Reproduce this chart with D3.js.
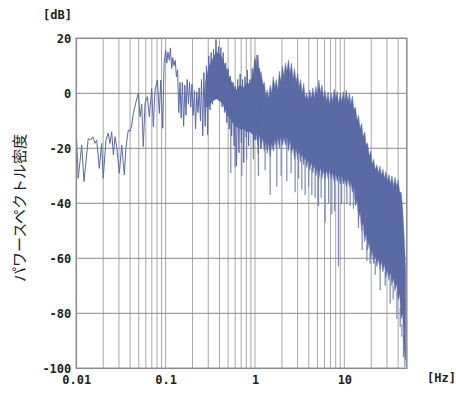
<!DOCTYPE html>
<html><head><meta charset="utf-8">
<script src="https://cdn.jsdelivr.net/npm/d3@7"></script>
<style>
html,body{margin:0;padding:0;background:#fff;}
svg{display:block;}
.tick text{font-family:"DejaVu Sans Mono",monospace;font-weight:bold;font-size:12px;fill:#222;}
</style></head>
<body>
<svg id="c" width="456" height="396"></svg>
<script>
// ---- data ----
const xTickLabels = [0.01, 0.1, 1, 10];
const yTickValues = [-100, -80, -60, -40, -20, 0, 20];

// trace line (0.01 Hz – 1.2 Hz)
const traceHz = [0.0101,0.0105,0.0115,0.0122,0.0136,0.0145,0.0153,0.0162,0.0169,0.0181,0.0192,0.0200,0.0215,0.0228,0.0238,0.0249,0.0260,0.0271,0.0283,0.0303,0.0322,0.0336,0.0345,0.0360,0.0382,0.0399,0.0417,0.0435,0.0466,0.0495,0.0517,0.0540,0.0562,0.0588,0.0624,0.0657,0.0698,0.0728,0.0761,0.0807,0.0850,0.0881,0.0928,0.0960,
  0.100,0.103,0.106,0.110,0.113,0.117,0.120,0.124,0.128,0.132,0.136,0.140,0.145,0.149,0.154,0.159,0.164,0.169,0.174,0.180,0.185,0.191,0.197,0.203,0.210,0.216,0.223,0.230,0.237,0.245,0.252,0.260,0.268,0.277,0.286,0.295,0.304,0.314,0.323,0.334,0.344,0.355,0.366,0.378,0.390,0.402,0.415,0.428,0.441,0.455,0.470,0.484,0.500,0.515,0.532,0.548,0.566,0.584,0.602,0.621,0.641,0.661,0.682,0.703,0.726,0.748,0.772,0.797,0.822,0.848,0.875,0.902,0.931,0.960,0.991,1.022,1.054,1.088,1.122,1.158,1.194];
const traceDb = [-17.0,-30.9,-18.8,-32.1,-16.4,-17.0,-15.8,-18.2,-17.0,-27.3,-18.2,-30.9,-17.0,-14.5,-18.2,-14.0,-22.4,-15.8,-19.4,-29.1,-18.8,-25.5,-29.7,-19.4,-13.3,-13.9,-11.5,-7.3,-3.1,0.0,-8.5,-4.0,-19.4,-3.6,-1.2,-8.5,1.8,-12.1,1.2,4.8,-7.3,4.8,-12.7,10.9,
  15.7,11,15,12,16.5,9,13,10,12,6,8.5,-7,4,-9,3.9,-12,3,-8,5,-4,4,-5,3.3,-8,1,-13,0.5,-7,2,-10,5,-15.5,7.5,-12,10,-15,13.6,-6,14.8,-4,16,1,19.6,-2,17,-1,16.6,-5,14.8,-7,11,-10.7,9,-13,6.3,-15.5,4,-19.2,2.7,-26.4,5,-21.6,7,-18,5,-25.2,6,-16,8.5,-19.2,5,-14,9,-20,12,-17,13.9,-22,9,-20,5];

// dense band (0.28 Hz – 50 Hz), upper and lower edges of the solid part
const bandHz = [0.28,0.30,0.33,0.37,0.41,0.44,0.49,0.53,0.57,0.61,0.68,0.74,0.82,0.88,0.95,
  1.00,1.04,1.08,1.12,1.17,1.22,1.27,1.32,1.37,1.42,1.48,1.54,1.60,1.67,1.73,1.80,1.87,1.95,2.03,2.11,2.19,2.28,2.37,2.46,2.56,2.67,2.77,2.88,3.00,3.12,3.24,3.37,3.51,3.65,3.79,3.95,4.10,4.27,4.44,4.62,4.80,4.99,5.19,5.40,5.62,5.84,6.07,6.32,6.57,6.83,7.11,7.39,7.69,8.00,8.32,8.65,9.00,9.36,9.73,10.1,10.5,11.0,11.4,11.8,12.3,12.8,13.3,13.9,14.4,15.0,15.6,16.2,16.9,17.5,18.2,19.0,19.7,20.5,21.3,22.2,23.1,24.0,25.0,26.0,27.0,28.1,29.2,30.4,31.6,32.8,34.1,35.5,36.9,38.4,40.0,41.6,43.2,44.9,46.7,48.6];
const bandTop = [4,9,12,15,14,12,8,5,3,1,3,2,4,3,7,
  13,9,13.9,6,8,3,4,-1,1.2,-2,3,0,6,2,5,1,8,4,10,6,11,8,12.1,7,11,5,9,4,7.3,2,5,0,3.6,-2,0,-3,1.2,-2,2,-2,2.5,-1,4.8,0,3,-2,1,-3,0.5,-4,0,-3,1.5,-2,0.6,-4,0,-3,0.6,-3,1.2,-3,0,-4,-1,-6,-5,-10,-8,-13,-11,-16,-14,-19,-18,-23,-21,-26,-24,-28,-26,-29,-26.5,-30,-27.5,-31,-28.5,-32,-29.5,-33,-30,-34,-30.5,-34,-31.5,-36,-36,-42,-52,-65];
const bandLow = [-5,-5,-3,-2,-3,-4,-8,-9,-11,-12,-13,-13,-14,-14,-15,
  -17,-14,-19,-15,-20,-16,-21,-17,-22,-18,-23,-18,-21,-17,-20,-16,-20,-16,-19,-16,-19,-16,-21,-17,-22,-19,-24,-20,-24,-21,-25,-22,-26,-23,-27,-24,-28,-25,-29,-26,-30,-27,-31,-27,-31,-28,-31,-28,-31,-28,-31,-29,-32,-29,-32,-30,-33,-30,-33,-31,-34,-31,-34,-32,-36,-34,-41,-39,-46,-43,-50,-47,-54,-51,-57,-54,-60,-57,-62,-59,-63,-60,-64,-61,-65,-62,-67,-64,-68,-65,-70,-67,-72,-69,-75,-73,-82,-80,-92,-97];

// deep downward spikes below the band
const spikeHz  = [0.536,0.598,0.712,0.806,0.960,1.092,1.298,1.476,1.754,1.960,2.270,2.537,2.812,3.077,3.343,3.639,3.985,4.327,4.710,5.129,5.497,6.095,6.672,7.244,7.788,8.590,9.328,10.67,11.62,12.64,14.39,15.83,17.87,19.45,22.13,25.17,28.63,32.58,35.19,38.72,42.17,44.05,45.88,47.58];
const spikeTop = [-8,-10,-12,-13,-14,-16,-18,-20,-18,-18,-17,-20,-22,-23,-24,-25,-26,-27,-28,-29,-29,-29,-29,-30,-30,-31,-31,-32,-32,-35,-45,-49,-55,-58,-61,-63,-65,-67,-70,-72,-78,-84,-88,-92];
const spikeLow = [-29,-27,-30,-24,-24,-30,-28,-37,-34,-30,-32,-29,-36,-31,-35,-37,-34,-37,-38,-41,-38,-47,-40,-44,-43,-63,-40,-40,-41,-42,-49,-57,-61,-62,-66,-71.5,-70,-76.4,-75,-82,-85,-88.5,-96,-99.5];

// ---- drawing ----
const svg = d3.select("#c");
const X0 = 76.3, X1 = 406.8, Y0 = 38.3, Y1 = 368.3;
const x = d3.scaleLog().domain([0.01, 50]).range([X0, X1]);
const y = d3.scaleLinear().domain([-100, 20]).range([Y1, Y0]);

// grid: vertical (1..9 per decade)
const gridHz = x.ticks().filter(v => v > 0.01 && v < 50);
svg.append("g").selectAll("line").data(gridHz).join("line")
  .attr("x1", d => x(d)).attr("x2", d => x(d))
  .attr("y1", Y0).attr("y2", Y1)
  .attr("stroke", "#a8a8a8").attr("stroke-width", 1);
// horizontal grid
svg.append("g").selectAll("line").data(yTickValues.filter(v => v > -100 && v < 20)).join("line")
  .attr("x1", X0).attr("x2", X1)
  .attr("y1", d => y(d)).attr("y2", d => y(d))
  .attr("stroke", "#8a8a8a").attr("stroke-width", 1);

// clip
svg.append("clipPath").attr("id", "clip").append("rect")
  .attr("x", X0).attr("y", Y0).attr("width", X1 - X0).attr("height", Y1 - Y0);
const plot = svg.append("g").attr("clip-path", "url(#clip)");

const col = "#5a6aa4";

// spikes
plot.append("g").selectAll("line").data(spikeHz).join("line")
  .attr("x1", d => x(d)).attr("x2", d => x(d))
  .attr("y1", (d, i) => y(spikeTop[i])).attr("y2", (d, i) => y(spikeLow[i]))
  .attr("stroke", "#7a88bb").attr("stroke-width", 1.2);

// band
const band = bandHz.map((f, i) => ({f, t: bandTop[i], b: bandLow[i]}));
plot.append("path").datum(band)
  .attr("d", d3.area().x(d => x(d.f)).y0(d => y(d.b)).y1(d => y(d.t)))
  .attr("fill", col).attr("stroke", col).attr("stroke-width", 0.8).attr("stroke-opacity", 0.6);

// trace
const trace = traceHz.map((f, i) => ({f, v: traceDb[i]}));
plot.append("path").datum(trace)
  .attr("d", d3.line().x(d => x(d.f)).y(d => y(d.v)))
  .attr("fill", "none").attr("stroke", col).attr("stroke-width", 1);

// frame
svg.append("rect").attr("x", X0).attr("y", Y0).attr("width", X1 - X0).attr("height", Y1 - Y0)
  .attr("fill", "none").attr("stroke", "#8a8a8a").attr("stroke-width", 1.5);

// axes labels
const xAxis = d3.axisBottom(x).tickValues(xTickLabels).tickSize(0).tickPadding(7)
  .tickFormat(d => String(d));
const gx = svg.append("g").attr("transform", `translate(0,${Y1})`).call(xAxis);
gx.select(".domain").remove();
const yAxis = d3.axisLeft(y).tickValues(yTickValues).tickSize(0).tickPadding(5)
  .tickFormat(d => String(d));
const gy = svg.append("g").attr("transform", `translate(${X0},0)`).call(yAxis);
gy.select(".domain").remove();
gy.selectAll(".tick text").attr("dy", "0.36em");
gx.selectAll(".tick text").attr("dy", "0.71em");

const unitStyle = s => s.attr("font-family", "DejaVu Sans Mono, monospace").attr("font-weight", "bold")
  .attr("font-size", 12).attr("fill", "#222");
svg.append("text").attr("x", 43).attr("y", 19).text("[dB]").call(unitStyle);
svg.append("text").attr("x", 427).attr("y", 382).text("[Hz]").call(unitStyle);

svg.append("text")
  .attr("transform", "translate(25,208) rotate(-90)")
  .attr("text-anchor", "middle")
  .attr("font-family", "Noto Sans CJK JP")
  .attr("font-size", 15).attr("fill", "#222")
  .text("パワースペクトル密度");
</script>
</body></html>
